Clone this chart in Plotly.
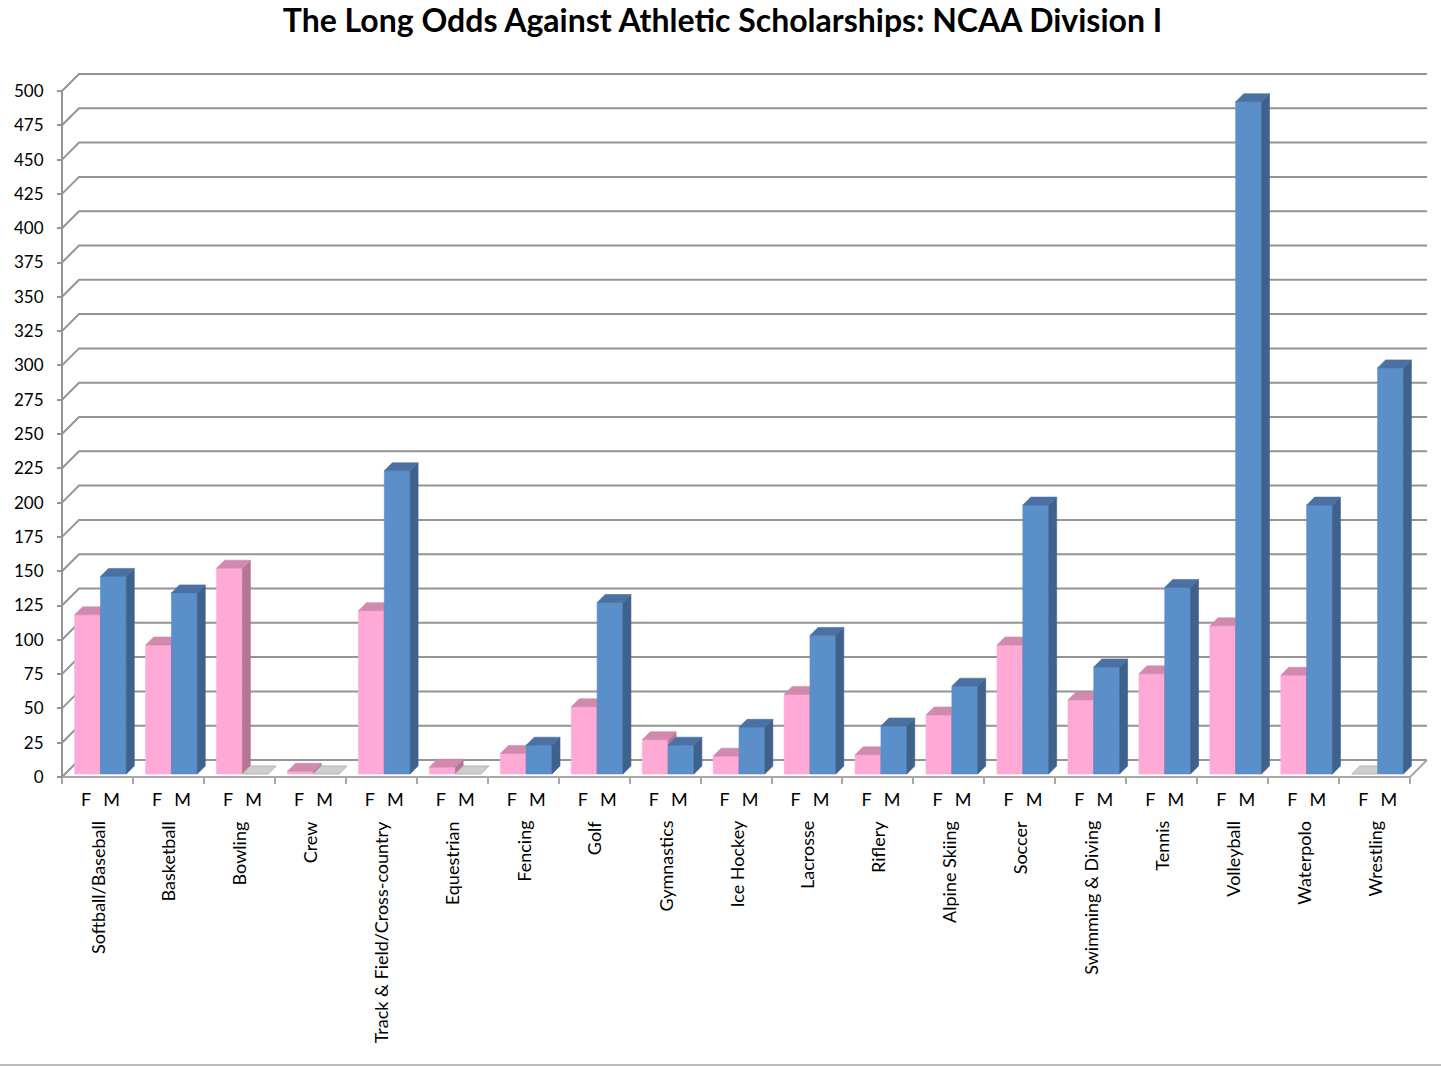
import plotly.graph_objects as go

# ---- data -------------------------------------------------------------
sports = [
    "Softball/Baseball", "Basketball", "Bowling", "Crew",
    "Track & Field/Cross-country", "Equestrian", "Fencing", "Golf",
    "Gymnastics", "Ice Hockey", "Lacrosse", "Riflery", "Alpine Skiing",
    "Soccer", "Swimming & Diving", "Tennis", "Volleyball", "Waterpolo",
    "Wrestling",
]
female = [116, 94, 150, 2, 119, 5, 15, 49, 25, 13, 58, 14, 43, 94, 54, 73, 108, 72, 0]
male = [144, 132, 0, 0, 221, 0, 21, 125, 21, 34, 101, 35, 64, 196, 78, 136, 490, 196, 296]
value_ticks = list(range(0, 501, 25))

# ---- pseudo-3D geometry ------------------------------------------------
W, H = 1441, 1066
PX_CAT = 70.95          # pixels per category slot
PX_VAL = 1.372          # pixels per value unit
ORIGIN_X, ORIGIN_Y = 62, 777   # pixel of (category 0, value 0) on the front plane
PLOT_L, PLOT_R, PLOT_T, PLOT_B = 58, 1432, 58, 781

DEPTH_PX = 17
DX = DEPTH_PX / PX_CAT          # depth shift in category units
DY = DEPTH_PX / PX_VAL          # depth shift in value units
D_FRONT, D_BACK = 3 / 17, 11 / 17   # bar front/back planes as fraction of depth
SLOT_F = (0.136, 0.5)
SLOT_M = (0.5, 0.864)

GRID = "#949494"
n = len(sports)


def proj(x, v, d):
    return x + d * DX, v + d * DY


def poly(pts):
    xs, ys = [], []
    for p in pts:
        px, py = proj(*p)
        xs.append(px)
        ys.append(py)
    xs.append(xs[0])
    ys.append(ys[0])
    return xs, ys


def faces(values, slot):
    front, top, side, flat = ([], []), ([], []), ([], []), ([], [])
    for k, v in enumerate(values):
        x0, x1 = k + slot[0], k + slot[1]
        tx, ty = poly([(x0, v, D_FRONT), (x1, v, D_FRONT), (x1, v, D_BACK), (x0, v, D_BACK)])
        if v <= 0:
            flat[0].extend(tx + [None]); flat[1].extend(ty + [None])
            continue
        fx, fy = poly([(x0, 0, D_FRONT), (x1, 0, D_FRONT), (x1, v, D_FRONT), (x0, v, D_FRONT)])
        sx, sy = poly([(x1, 0, D_FRONT), (x1, v, D_FRONT), (x1, v, D_BACK), (x1, 0, D_BACK)])
        front[0].extend(fx + [None]); front[1].extend(fy + [None])
        top[0].extend(tx + [None]); top[1].extend(ty + [None])
        side[0].extend(sx + [None]); side[1].extend(sy + [None])
    return front, top, side, flat


def polygon_trace(xy, color, name, edge=None, edge_width=0.6):
    return go.Scatter(
        x=xy[0], y=xy[1], mode="lines", fill="toself", fillcolor=color,
        line=dict(color=edge or color, width=edge_width), name=name,
        hoverinfo="skip", showlegend=False,
    )


fig = go.Figure()

# back wall / side wall gridlines
gx, gy = [], []
for v in value_ticks:
    p0 = proj(0, v, 0)
    p1 = proj(0, v, 1)
    p2 = proj(n, v, 1)
    gx += [p0[0], p1[0], p2[0], None]
    gy += [p0[1], p1[1], p2[1], None]
fig.add_trace(go.Scatter(x=gx, y=gy, mode="lines", line=dict(color=GRID, width=2),
                         hoverinfo="skip", showlegend=False))

# floor front edge, right floor edge and front value axis
fx0, fy0 = proj(0, 0, 0)
fx1, fy1 = proj(n, 0, 0)
fx2, fy2 = proj(n, 0, 1)
fig.add_trace(go.Scatter(x=[fx0, fx1, fx2], y=[fy0, fy1, fy2], mode="lines",
                         line=dict(color="#A8A8A8", width=2), hoverinfo="skip",
                         showlegend=False))
fig.add_trace(go.Scatter(x=[0, 0], y=[0, value_ticks[-1]], mode="lines",
                         line=dict(color=GRID, width=2), hoverinfo="skip",
                         showlegend=False))

# columns: female first, male drawn over it
pink = ("#FFA9D6", "#D08AAD", "#B57696")
blue = ("#5B8FC9", "#4A71A1", "#3F628C")
for values, slot, cols, nm in [(female, SLOT_F, pink, "F"), (male, SLOT_M, blue, "M")]:
    front, top, side, flat = faces(values, slot)
    fig.add_trace(polygon_trace(flat, "#CDCDCD", nm + " zero", edge="#B4B4B4", edge_width=1))
    fig.add_trace(polygon_trace(front, cols[0], nm))
    fig.add_trace(polygon_trace(side, cols[2], nm + " side"))
    fig.add_trace(polygon_trace(top, cols[1], nm + " top"))

# ---- axes --------------------------------------------------------------
FONT = "Lato"
plot_w = PLOT_R - PLOT_L
plot_h = PLOT_B - PLOT_T

fm_vals, fm_text = [], []
for k in range(n):
    fm_vals += [k + 0.5 - 0.16, k + 0.5 + 0.20]
    fm_text += ["F", "M"]

fig.update_xaxes(
    range=[(PLOT_L - ORIGIN_X) / PX_CAT, (PLOT_R - ORIGIN_X) / PX_CAT],
    anchor="free", position=(PLOT_B - ORIGIN_Y) / plot_h,
    showgrid=False, zeroline=False, showline=False,
    tickmode="array", tickvals=fm_vals, ticktext=fm_text, ticks="",
    ticklabelstandoff=10,
    tickfont=dict(family=FONT, size=18, color="#000000"),
    minor=dict(tickmode="array", tickvals=list(range(n + 1)), ticks="outside",
               ticklen=6, tickwidth=2, tickcolor="#A8A8A8", showgrid=False),
    fixedrange=True,
)
fig.update_yaxes(
    range=[(ORIGIN_Y - PLOT_B) / PX_VAL, (ORIGIN_Y - PLOT_T) / PX_VAL],
    anchor="free", position=(ORIGIN_X - PLOT_L) / plot_w,
    showgrid=False, zeroline=False, showline=False,
    tickmode="array", tickvals=value_ticks, ticks="outside", ticklen=5,
    tickwidth=2, tickcolor=GRID, ticklabelstandoff=10,
    tickfont=dict(family=FONT, size=17, color="#000000"),
    fixedrange=True,
)

# sport names, rotated under each F/M pair
for k, name in enumerate(sports):
    fig.add_annotation(
        x=k + 0.5, xref="x", y=(PLOT_B - 819) / plot_h, yref="paper",
        text=name, textangle=-90, showarrow=False, xanchor="center",
        yanchor="top", font=dict(family=FONT, size=18, color="#000000"),
    )

# chart-area border at the bottom
fig.add_shape(type="line", xref="paper", yref="paper",
              x0=-PLOT_L / plot_w, x1=(W - PLOT_L) / plot_w,
              y0=(PLOT_B - 1065) / plot_h, y1=(PLOT_B - 1065) / plot_h,
              line=dict(color="#A6A6A6", width=1.5))

fig.update_layout(
    width=W, height=H,
    margin=dict(l=PLOT_L, r=W - PLOT_R, t=PLOT_T, b=H - PLOT_B, autoexpand=False),
    paper_bgcolor="white", plot_bgcolor="white",
    title=dict(text="<b>The Long Odds Against Athletic Scholarships: NCAA Division I</b>",
               x=722.5 / W, xanchor="center", y=1 - 21 / H, yanchor="middle",
               font=dict(family=FONT, size=32, color="#000000")),
    showlegend=False,
)

fig.write_html("out.html")
